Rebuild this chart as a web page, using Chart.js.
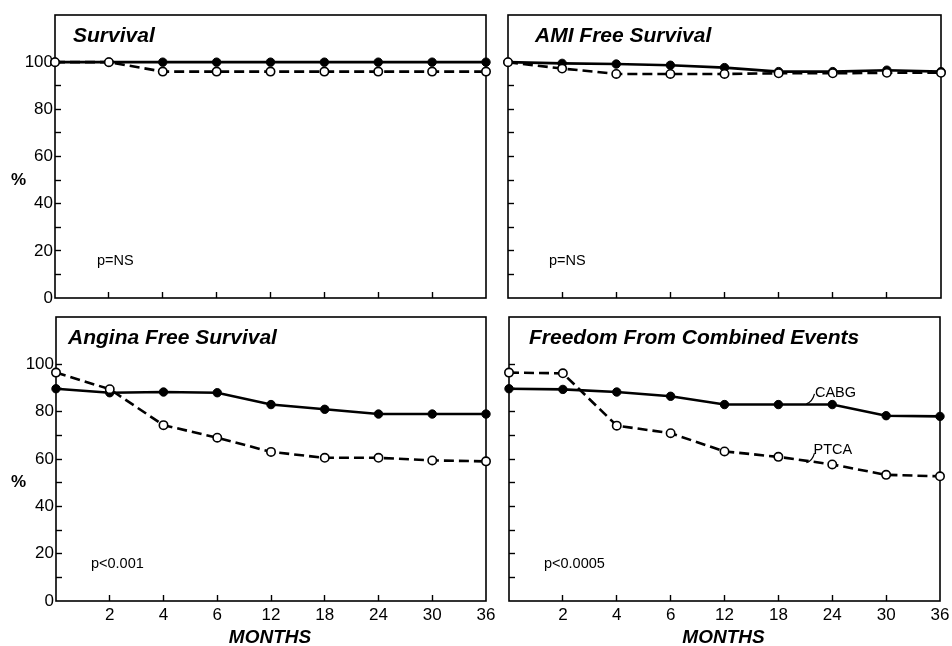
<!DOCTYPE html>
<html><head><meta charset="utf-8">
<script src="https://cdn.jsdelivr.net/npm/chart.js@4/dist/chart.umd.min.js"></script>
<style>
html,body{margin:0;padding:0;background:#fff;}
#wrap{position:relative;width:952px;height:646px;background:#fff;}
canvas{position:absolute;left:0;top:0;pointer-events:none;}
</style></head><body>
<div id="wrap">
<canvas id="c0" width="952" height="646"></canvas>
<canvas id="c1" width="952" height="646"></canvas>
<canvas id="c2" width="952" height="646"></canvas>
<canvas id="c3" width="952" height="646"></canvas>
</div>
<script>
// ---- data ----
const months = ['', '2', '4', '6', '12', '18', '24', '30', '36'];
const yTickLabels = [0, 20, 40, 60, 80, 100];
const seriesNames = ['CABG', 'PTCA'];
const panelTitles = ['Survival', 'AMI Free Survival', 'Angina Free Survival', 'Freedom From Combined Events'];
const pValues = ['p=NS', 'p=NS', 'p<0.001', 'p<0.0005'];
const survivalCABG = [100, 100, 100, 100, 100, 100, 100, 100, 100];
const survivalPTCA = [100, 100, 96, 96, 96, 96, 96, 96, 96];
const amiCABG = [100, 99.5, 99.2, 98.7, 97.7, 96, 96, 96.6, 96];
const amiPTCA = [100, 97.3, 95, 95, 95, 95.3, 95.3, 95.5, 95.5];
const anginaCABG = [89.7, 88, 88.3, 88, 83, 81, 79, 79, 79];
const anginaPTCA = [96.5, 89.5, 74.3, 69, 63, 60.5, 60.5, 59.4, 59];
const combinedCABG = [89.7, 89.4, 88.3, 86.5, 83, 83, 83, 78.3, 78];
const combinedPTCA = [96.5, 96.2, 74.1, 70.9, 63.2, 60.9, 57.7, 53.3, 52.7];
const axisTitleY = '%';
const axisTitleX = 'MONTHS';

const panelData = [
  [survivalCABG, survivalPTCA],
  [amiCABG, amiPTCA],
  [anginaCABG, anginaPTCA],
  [combinedCABG, combinedPTCA]
];

// ---- layout / style ----
const FONT = '"Liberation Sans", Arial, Helvetica, sans-serif';
Chart.defaults.font.family = FONT;
Chart.defaults.color = '#000';
const W = 952, H = 646;
const AXW = 40, AXH = 30;
const areas = [
  {left: 55, top: 15, right: 486, bottom: 298, yLabels: true, xLabels: false, titleDx: 18, pDx: 42},
  {left: 508, top: 15, right: 941, bottom: 298, yLabels: false, xLabels: false, titleDx: 27, pDx: 41},
  {left: 56, top: 317, right: 486, bottom: 601, yLabels: true, xLabels: true, titleDx: 12, pDx: 35},
  {left: 509, top: 317, right: 940, bottom: 601, yLabels: false, xLabels: true, titleDx: 20, pDx: 35}
];

function makePlugin(i) {
  const a = areas[i];
  return {
    id: 'panelDeco' + i,
    beforeDatasetsDraw(chart) {
      const ctx = chart.ctx, ca = chart.chartArea;
      ctx.save();
      ctx.strokeStyle = '#000';
      ctx.lineWidth = 1.6;
      ctx.strokeRect(ca.left, ca.top, ca.right - ca.left, ca.bottom - ca.top);
      ctx.restore();
    },
    afterDraw(chart) {
      const ctx = chart.ctx, ca = chart.chartArea;
      const xs = chart.scales.x, ys = chart.scales.y;
      ctx.save();
      ctx.fillStyle = '#000';
      ctx.textBaseline = 'alphabetic';
      // title
      ctx.font = 'italic bold 21px ' + FONT;
      ctx.textAlign = 'left';
      ctx.fillText(panelTitles[i], ca.left + a.titleDx, ca.top + 27);
      // p value
      ctx.font = '14.5px ' + FONT;
      ctx.fillText(pValues[i], ca.left + a.pDx, ys.getPixelForValue(14));
      // % label
      if (a.yLabels) {
        ctx.font = 'bold 17px ' + FONT;
        ctx.textAlign = 'center';
        ctx.textBaseline = 'middle';
        ctx.fillText(axisTitleY, 18.5, ys.getPixelForValue(50));
      }
      // MONTHS
      if (a.xLabels) {
        ctx.font = 'italic bold 19px ' + FONT;
        ctx.textAlign = 'center';
        ctx.textBaseline = 'middle';
        ctx.fillText(axisTitleX, (ca.left + ca.right) / 2 - 1, ca.bottom + 37);
      }
      // series annotations
      if (i === 3) {
        ctx.font = '14.5px ' + FONT;
        ctx.textAlign = 'left';
        ctx.textBaseline = 'alphabetic';
        ctx.lineWidth = 1.2;
        ctx.strokeStyle = '#000';
        // CABG
        let x0 = xs.getPixelForValue(5.52), y0 = ys.getPixelForValue(83.3);
        let x1 = xs.getPixelForValue(5.67), y1 = ys.getPixelForValue(87.5);
        ctx.beginPath();
        ctx.moveTo(x0, y0);
        ctx.quadraticCurveTo(x1 - 2, y0 - 2, x1, y1);
        ctx.stroke();
        ctx.fillText(seriesNames[0], x1 + 0.5, ys.getPixelForValue(86));
        // PTCA
        x0 = xs.getPixelForValue(5.52); y0 = ys.getPixelForValue(58.4);
        x1 = xs.getPixelForValue(5.67); y1 = ys.getPixelForValue(62.5);
        ctx.beginPath();
        ctx.moveTo(x0, y0);
        ctx.quadraticCurveTo(x1 - 2, y0 - 2, x1, y1);
        ctx.stroke();
        ctx.fillText(seriesNames[1], x1 - 1, ys.getPixelForValue(62));
      }
      ctx.restore();
    }
  };
}

areas.forEach((a, i) => {
  const [cabg, ptca] = panelData[i];
  new Chart(document.getElementById('c' + i), {
    type: 'line',
    data: {
      labels: months,
      datasets: [
        {
          label: seriesNames[0], data: cabg, order: 1,
          borderColor: '#000', borderWidth: 2.6, tension: 0,
          pointRadius: 4.2, pointBackgroundColor: '#000', pointBorderColor: '#000', pointBorderWidth: 1,
          clip: false
        },
        {
          label: seriesNames[1], data: ptca, order: 0,
          borderColor: '#000', borderWidth: 2.6, borderDash: [10, 5], tension: 0,
          pointRadius: 4.2, pointBackgroundColor: '#fff', pointBorderColor: '#000', pointBorderWidth: 1.6,
          clip: false
        }
      ]
    },
    options: {
      responsive: false,
      animation: false,
      devicePixelRatio: 1,
      events: [],
      layout: {padding: {left: a.left - AXW, top: a.top, right: W - a.right, bottom: H - a.bottom - AXH}},
      plugins: {legend: {display: false}, tooltip: {enabled: false}, title: {display: false}},
      scales: {
        x: {
          type: 'category', offset: false,
          afterFit(s) { s.height = AXH; s.paddingLeft = 0; s.paddingRight = 0; s.paddingTop = 0; s.paddingBottom = 0; },
          border: {display: false},
          grid: {
            drawOnChartArea: false, drawTicks: true, tickLength: -6, tickWidth: 1.4,
            tickColor: (c) => (c.index === 0 || c.index === months.length - 1) ? 'rgba(0,0,0,0)' : '#000'
          },
          ticks: {
            display: a.xLabels, autoSkip: false, maxRotation: 0, padding: 10,
            font: {size: 17, family: FONT}, color: '#000'
          }
        },
        y: {
          min: 0, max: 120,
          afterFit(s) { s.width = AXW; s.paddingLeft = 0; s.paddingRight = 0; s.paddingTop = 0; s.paddingBottom = 0; },
          border: {display: false},
          grid: {
            drawOnChartArea: false, drawTicks: true, tickLength: -6, tickWidth: 1.4,
            tickColor: (c) => (c.tick && (c.tick.value > 100 || c.tick.value === 0)) ? 'rgba(0,0,0,0)' : '#000'
          },
          ticks: {
            display: a.yLabels, stepSize: 10, padding: 8,
            font: {size: 17, family: FONT}, color: '#000',
            callback: (v) => yTickLabels.includes(v) ? String(v) : ''
          }
        }
      }
    },
    plugins: [makePlugin(i)]
  });
});
</script>
</body></html>
